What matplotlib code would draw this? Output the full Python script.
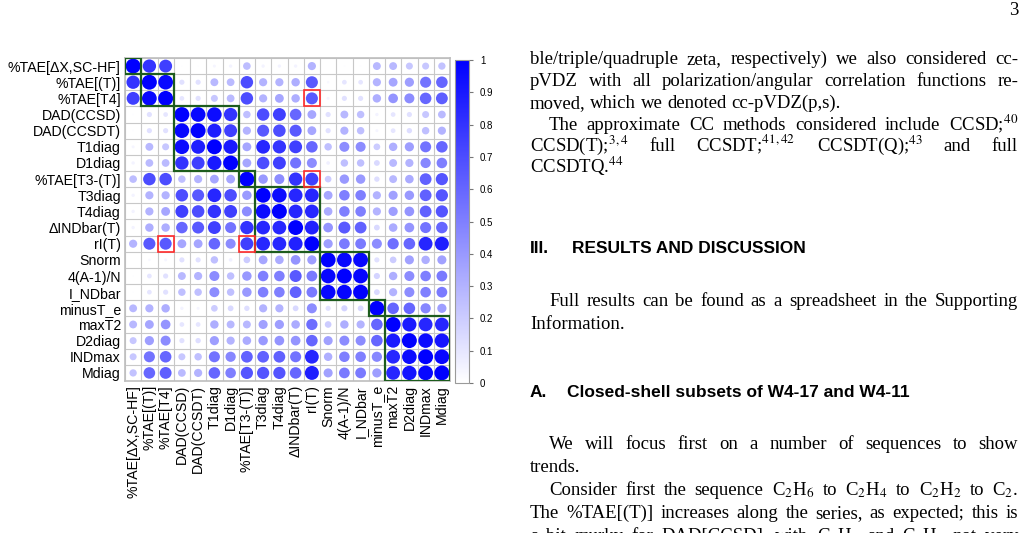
import numpy as np
import matplotlib
matplotlib.use("Agg")
import matplotlib.pyplot as plt
from matplotlib.patches import Circle, Rectangle
from matplotlib.colors import LinearSegmentedColormap, Normalize
from matplotlib.colorbar import ColorbarBase

W, H = 1026, 533

labels = ["%TAE[ΔX,SC-HF]", "%TAE[(T)]", "%TAE[T4]", "DAD(CCSD)", "DAD(CCSDT)",
          "T1diag", "D1diag", "%TAE[T3-(T)]", "T3diag", "T4diag", "ΔINDbar(T)",
          "rI(T)", "Snorm", "4(A-1)/N", "I_NDbar", "minusT_e", "maxT2", "D2diag",
          "INDmax", "Mdiag"]

# lower triangle of the correlation matrix, row i holds columns 0..i
lower = [
    [1.00],
    [0.80, 1.00],
    [0.75, 0.97, 1.00],
    [0.01, 0.12, 0.10, 1.00],
    [0.01, 0.12, 0.12, 0.97, 1.00],
    [0.04, 0.28, 0.22, 0.95, 0.88, 1.00],
    [0.05, 0.27, 0.27, 0.80, 0.75, 0.90, 1.00],
    [0.26, 0.70, 0.70, 0.25, 0.30, 0.35, 0.35, 1.00],
    [0.05, 0.30, 0.30, 0.70, 0.65, 0.85, 0.70, 0.40, 1.00],
    [0.05, 0.30, 0.35, 0.75, 0.70, 0.80, 0.75, 0.45, 0.95, 1.00],
    [0.05, 0.32, 0.32, 0.60, 0.65, 0.75, 0.55, 0.80, 0.85, 0.85, 1.00],
    [0.30, 0.65, 0.65, 0.35, 0.35, 0.60, 0.45, 0.75, 0.85, 0.85, 0.87, 1.00],
    [0.00, 0.03, 0.04, 0.12, 0.12, 0.25, 0.06, 0.20, 0.35, 0.33, 0.42, 0.38, 1.00],
    [0.01, 0.10, 0.12, 0.28, 0.30, 0.45, 0.25, 0.40, 0.50, 0.50, 0.65, 0.52, 0.97, 1.00],
    [0.01, 0.10, 0.12, 0.25, 0.25, 0.45, 0.25, 0.40, 0.50, 0.50, 0.62, 0.52, 0.97, 0.98, 1.00],
    [0.28, 0.30, 0.32, 0.05, 0.04, 0.20, 0.15, 0.13, 0.30, 0.30, 0.15, 0.45, 0.12, 0.17, 0.15, 1.00],
    [0.28, 0.35, 0.42, 0.10, 0.10, 0.32, 0.28, 0.28, 0.37, 0.38, 0.33, 0.57, 0.20, 0.32, 0.30, 0.60, 1.00],
    [0.22, 0.38, 0.45, 0.12, 0.13, 0.38, 0.30, 0.33, 0.40, 0.42, 0.42, 0.60, 0.37, 0.45, 0.45, 0.60, 0.90, 1.00],
    [0.22, 0.55, 0.60, 0.22, 0.25, 0.55, 0.47, 0.62, 0.62, 0.62, 0.55, 0.85, 0.32, 0.50, 0.50, 0.47, 0.85, 0.95, 1.00],
    [0.24, 0.60, 0.63, 0.27, 0.30, 0.60, 0.50, 0.67, 0.67, 0.67, 0.60, 0.88, 0.37, 0.52, 0.52, 0.38, 0.85, 0.92, 0.97, 1.00],
]

# hierarchical clusters (first index, size) and highlighted cells (row, col)
clusters = [(0, 1), (1, 2), (3, 4), (7, 1), (8, 4), (12, 3), (15, 1), (16, 4)]
red_cells = [(2, 11), (7, 11), (11, 2), (11, 7)]

n = len(labels)
corr = np.zeros((n, n))
for i, row in enumerate(lower):
    for j, v in enumerate(row):
        corr[i, j] = v
        corr[j, i] = v

cmap = LinearSegmentedColormap.from_list("wb", ["#ffffff", "#0000ff"])
norm = Normalize(0, 1)

plt.rcParams['font.family'] = ['Liberation Sans', 'DejaVu Sans']
plt.rcParams['mathtext.fontset'] = 'stix'

fig = plt.figure(figsize=(W / 100, H / 100), dpi=100)

ax = fig.add_axes([125 / W, 1 - 381 / H, 325 / W, 323 / H])
ax.set_xlim(-0.5, n - 0.5)
ax.set_ylim(n - 0.5, -0.5)
for k in range(n + 1):
    ax.axhline(k - 0.5, color="#c8c8c8", lw=0.8, zorder=1)
    ax.axvline(k - 0.5, color="#c8c8c8", lw=0.8, zorder=1)

for i in range(n):
    for j in range(n):
        v = corr[i, j]
        if v <= 0:
            continue
        ax.add_patch(Circle((j, i), 0.46 * np.sqrt(abs(v)), facecolor=cmap(norm(v)),
                            edgecolor="none", zorder=2))

for s, size in clusters:
    ax.add_patch(Rectangle((s - 0.5, s - 0.5), size, size, fill=False,
                           edgecolor="#1d5c1d", lw=1.6, zorder=4))
for r, c in red_cells:
    ax.add_patch(Rectangle((c - 0.5, r - 0.5), 1, 1, fill=False,
                           edgecolor="#ff2a2a", lw=1.2, zorder=5))

ax.set_xticks(range(n))
ax.set_yticks(range(n))
ax.set_xticklabels(labels, rotation=90, fontsize=10.2)
ax.set_yticklabels(labels, fontsize=10.2)
ax.tick_params(length=0, pad=3)
for sp in ax.spines.values():
    sp.set_color("#bebebe")
    sp.set_linewidth(1.2)

cax = fig.add_axes([455 / W, 1 - 383 / H, 14 / W, 323 / H])
cb = ColorbarBase(cax, cmap=cmap, norm=norm, ticks=np.linspace(0, 1, 11))
cb.set_ticklabels(["0", "0.1", "0.2", "0.3", "0.4", "0.5", "0.6", "0.7", "0.8", "0.9", "1"])
cb.outline.set_edgecolor("#9a9a9a")
cax.tick_params(labelsize=7, length=3, color="#777777", pad=5)

# page text on the right
serif = dict(family=['Liberation Serif', 'DejaVu Serif'], fontsize=13.5, va='baseline')
renderer = fig.canvas.get_renderer()
X0, X1 = 530, 1018


def put_line(text, base, indent=0, justify=True, props=serif):
    words = text.split(" ")
    objs = [fig.text(0, 1 - base / H, w, **props) for w in words]
    widths = [t.get_window_extent(renderer).width for t in objs]
    x = X0 + indent
    if justify and len(words) > 1:
        gap = (X1 - x - sum(widths)) / (len(words) - 1)
    else:
        gap = 0.25 * props['fontsize'] * 100 / 72
    for t, w in zip(objs, widths):
        t.set_x(x / W)
        x += w + gap


fig.text(1018 / W, 1 - 15 / H, "3", ha='right', **serif)

ind = 19
put_line("ble/triple/quadruple zeta, respectively) we also considered cc-", 64)
put_line("pVDZ with all polarization/angular correlation functions re-", 86)
put_line("moved, which we denoted cc-pVDZ(p,s).", 108, justify=False)
put_line("The approximate CC methods considered include CCSD;$^{40}$", 130, ind)
put_line("CCSD(T);$^{3,4}$ full CCSDT;$^{41,42}$ CCSDT(Q);$^{43}$ and full", 151)
put_line("CCSDTQ.$^{44}$", 173, justify=False)

head = dict(family=['Liberation Sans', 'DejaVu Sans'], fontsize=12.5, weight='bold', va='baseline')
fig.text(530 / W, 1 - 253 / H, "III.", **head)
fig.text(572 / W, 1 - 253 / H, "RESULTS AND DISCUSSION", **head)

put_line("Full results can be found as a spreadsheet in the Supporting", 306, ind)
put_line("Information.", 329, justify=False)

fig.text(530 / W, 1 - 397 / H, "A.", **head)
fig.text(567 / W, 1 - 397 / H, "Closed-shell subsets of W4-17 and W4-11", **head)

put_line("We will focus first on a number of sequences to show", 449, ind)
put_line("trends.", 472, justify=False)
put_line("Consider first the sequence C$_2$H$_6$ to C$_2$H$_4$ to C$_2$H$_2$ to C$_2$.", 495, ind)
put_line("The %TAE[(T)] increases along the series, as expected; this is", 518)
put_line("a bit murky for DAD[CCSD], with C$_2$H$_4$ and C$_2$H$_2$ not very", 541)

fig.savefig("out.png", dpi=100)
